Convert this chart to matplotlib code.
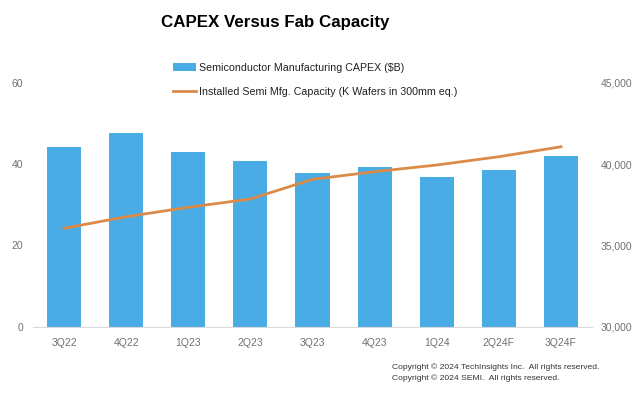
import matplotlib
matplotlib.use("Agg")
import matplotlib.pyplot as plt
from matplotlib.ticker import FuncFormatter

plt.rcParams["font.family"] = ["Liberation Sans", "DejaVu Sans"]

categories = ["3Q22", "4Q22", "1Q23", "2Q23", "3Q23", "4Q23", "1Q24", "2Q24F", "3Q24F"]
capex = [44.1, 47.7, 42.9, 40.8, 37.7, 39.3, 36.7, 38.5, 42.0]
capacity = [36050, 36760, 37340, 37850, 39060, 39530, 39940, 40450, 41060]
left_ticks = [0, 20, 40, 60]
right_ticks = [30000, 35000, 40000, 45000]

bar_color = "#4AACE5"
line_color = "#DB8A48"
tick_color = "#707070"

fig = plt.figure(figsize=(6.39, 3.93), dpi=100)
ax = fig.add_axes([33/639, 1-326.7/393, (592-33)/639, (326.7-82.7)/393])
x = list(range(len(categories)))
bars = ax.bar(x, capex, width=0.55, color=bar_color, zorder=2,
              label="Semiconductor Manufacturing CAPEX ($B)")
ax.set_ylim(0, 60)
ax.set_xlim(-0.5, len(categories) - 0.5)
ax.set_yticks(left_ticks)
ax.set_xticks(x)
ax.set_xticklabels(categories)
for s in ["top", "right", "left"]:
    ax.spines[s].set_visible(False)
ax.spines["bottom"].set_color("#D9D9D9")
ax.tick_params(axis="both", length=0, labelsize=7.5, colors=tick_color, pad=8)
ax.tick_params(axis="y", pad=7)

ax2 = ax.twinx()
ln, = ax2.plot(x, capacity, color=line_color, lw=2.0, zorder=3,
               label="Installed Semi Mfg. Capacity (K Wafers in 300mm eq.)")
ax2.set_ylim(30000, 45000)
ax2.set_yticks(right_ticks)
ax2.yaxis.set_major_formatter(FuncFormatter(lambda v, p: f"{int(v):,}"))
for s in ["top", "right", "left", "bottom"]:
    ax2.spines[s].set_visible(False)
ax2.tick_params(axis="y", length=0, labelsize=7.5, colors=tick_color, pad=6)

fig.text(275/639, 1-22/393, "CAPEX Versus Fab Capacity", ha="center", va="center",
         fontsize=12.2, fontweight="bold")

fig.legend(handles=[bars, ln], loc="upper left", bbox_to_anchor=(163/639, 1-53/393),
           frameon=False, fontsize=7.7, handlelength=2.2, handletextpad=0.3,
           labelspacing=1.3, labelcolor="#222222")

fig.text(392/639, 1-367/393, "Copyright \u00a9 2024 TechInsights Inc.  All rights reserved.",
         fontsize=6.1, color="#333333", va="center", ha="left")
fig.text(392/639, 1-378/393, "Copyright \u00a9 2024 SEMI.  All rights reserved.",
         fontsize=6.1, color="#333333", va="center", ha="left")

fig.savefig("out.png", dpi=100)
